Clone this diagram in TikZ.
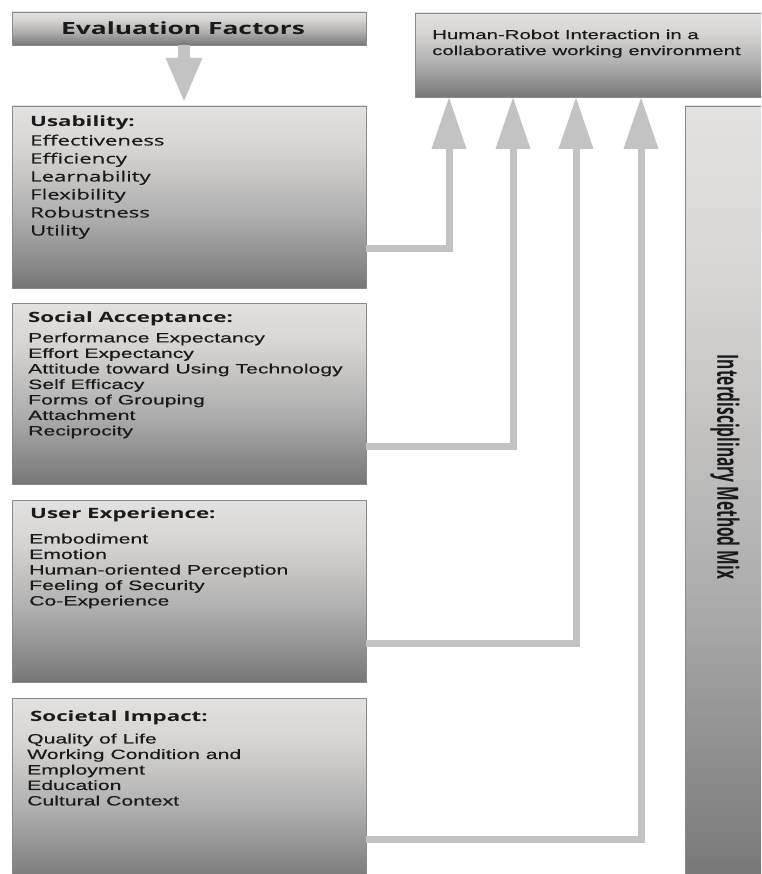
\documentclass[tikz,border=0pt]{standalone}
\usepackage{fontspec}
\setmainfont[FakeStretch=1.57,FakeBold=0.35]{Liberation Sans}
\newfontfamily\hfont[FakeStretch=1.57]{Open Sans}
\newfontfamily\hfontreg[FakeStretch=1.57,FakeBold=0.35]{Open Sans}
\newfontfamily\vfont[FakeStretch=0.83]{Open Sans}
\usetikzlibrary{arrows.meta,calc}
\definecolor{gA}{HTML}{E4E2E0}
\definecolor{gB}{HTML}{D6D4D2}
\definecolor{gC}{HTML}{ADADAD}
\definecolor{gD}{HTML}{858585}
\definecolor{gE}{HTML}{767676}
\definecolor{boxline}{HTML}{8A8A8A}
\definecolor{arrowgray}{HTML}{C3C3C3}
\definecolor{txt}{HTML}{1A1A1A}
\pgfdeclareverticalshading{boxshade}{100bp}{color(0bp)=(gE); color(25bp)=(gE); color(30bp)=(gD); color(44bp)=(gC); color(63bp)=(gB); color(75bp)=(gA); color(100bp)=(gA)}
\tikzset{
  box/.style={draw=boxline, line width=0.8pt, shading=boxshade, inner sep=0pt, outer sep=0pt, anchor=north west},
  head/.style={font=\hfont\bfseries\fontsize{14.2}{16}\selectfont, text=txt, inner sep=0pt, anchor=base west},
  itemsA/.style={font=\hfontreg\fontsize{14.1}{18}\selectfont, text=txt, inner sep=0pt, anchor=north west, align=left},
  items/.style={font=\fontsize{13.5}{15.5}\selectfont, text=txt, inner sep=0pt, anchor=north west, align=left},
  hritext/.style={font=\fontsize{13}{16}\selectfont, text=txt, inner sep=0pt, anchor=north west, align=left},
  conn/.style={draw=arrowgray, line width=7pt, line join=miter, -{Triangle[width=33pt,length=52pt]}},
  downarr/.style={draw=arrowgray, line width=12pt, -{Triangle[width=33pt,length=45pt]}}
}
\begin{document}
\begin{tikzpicture}[x=1pt,y=-1pt]
\path[use as bounding box, clip] (0,0) rectangle (761,874);
% boxes
\node[box, minimum width=354pt, minimum height=33pt] (ef) at (12,12) {};
\node[box, minimum width=360pt, minimum height=84pt] (hri) at (415,13) {};
\node[box, minimum width=354pt, minimum height=182pt] (us) at (12,106) {};
\node[box, minimum width=354pt, minimum height=181pt] (sa) at (12,303) {};
\node[box, minimum width=354pt, minimum height=182pt] (ux) at (12,500) {};
\node[box, minimum width=354pt, minimum height=185pt] (si) at (12,698) {};
\node[box, minimum width=90pt, minimum height=780pt] (imm) at (685,106) {};
% texts
\node[font=\hfont\bfseries\fontsize{16.8}{18}\selectfont, text=txt, inner sep=0pt, anchor=base] (eft) at (183,35) {Evaluation Factors};
\node[hritext] (hrit) at (432,29.5) {Human-Robot Interaction in a\\collaborative working environment};
\node[head] (ush) at (30,127) {Usability:};
\node[itemsA] (usi) at (30,134.5) {Effectiveness\\Efficiency\\Learnability\\Flexibility\\Robustness\\Utility};
\node[head] (sah) at (28,322) {Social Acceptance:};
\node[items] (sai) at (28,332.5) {Performance Expectancy\\Effort Expectancy\\Attitude toward Using Technology\\Self Efficacy\\Forms of Grouping\\Attachment\\Reciprocity};
\node[head] (uxh) at (30,518) {User Experience:};
\node[items] (uxi) at (29,533.5) {Embodiment\\Emotion\\Human-oriented Perception\\Feeling of Security\\Co-Experience};
\node[head] (sih) at (30,721) {Societal Impact:};
\node[items] (sii) at (27,733.5) {Quality of Life\\Working Condition and\\Employment\\Education\\Cultural Context};
\node[rotate=-90, inner sep=0pt, text=txt] (immt) at (725,467) {\scalebox{1}[1.57]{\vfont\bfseries\fontsize{18.7}{20}\selectfont Interdisciplinary Method Mix}};
% connectors
\draw[downarr] ([xshift=-5pt]ef.south) -- ([xshift=-5pt,yshift=3pt]us.north);
\draw[conn] ([yshift=-143pt]us.north east) -| ([xshift=34pt]hri.south west);
\draw[conn] ([yshift=-143pt]sa.north east) -| ([xshift=98pt]hri.south west);
\draw[conn] ([yshift=-143pt]ux.north east) -| ([xshift=161pt]hri.south west);
\draw[conn] ([yshift=-141pt]si.north east) -| ([xshift=226pt]hri.south west);
\end{tikzpicture}
\end{document}
